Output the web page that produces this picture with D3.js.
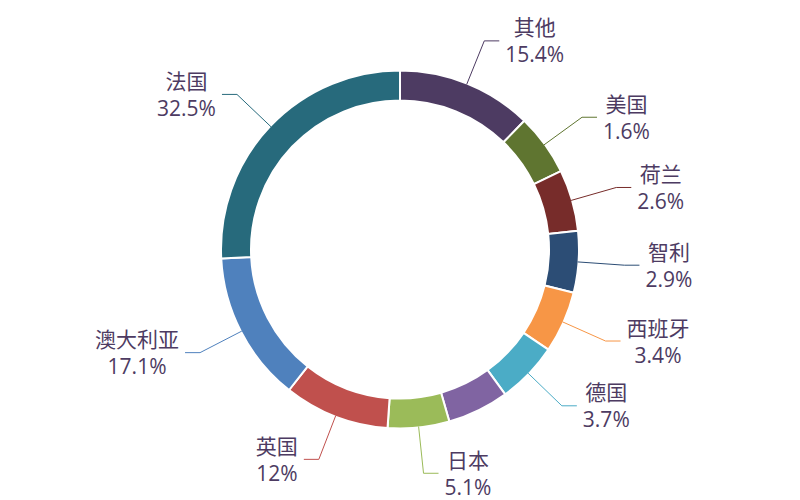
<!DOCTYPE html>
<html>
<head>
<meta charset="utf-8">
<script src="https://cdn.jsdelivr.net/npm/d3@7"></script>
<style>
  body { margin: 0; background: #fff; }
  text { font-family: "Open Sans", "Noto Sans CJK SC", sans-serif; }
</style>
</head>
<body>
<script>
// slices run clockwise from 12 o'clock; the unnamed slice had no label in the picture
const categories = ['其他', '美国', '荷兰', '智利', '西班牙', '德国', '', '日本', '英国', '澳大利亚', '法国'];
const values = [15.4, 1.6, 2.6, 2.9, 3.4, 3.7, 3.7, 5.1, 12, 17.1, 32.5];
const colors = ['#4d3b62', '#5f7530', '#772c2a', '#2c4d75', '#f79646', '#4bacc6',
                '#8064a2', '#9bbb59', '#c0504d', '#4f81bd', '#276a7c'];

const w = 800, h = 500;
const cx = 400, cy = 249.5;
const outerR = 179, innerR = 149;
const minAngle = 20 * Math.PI / 180;
const textColor = '#4d3b62';

// small slices are held at a minimum angle, the rest share what is left
const total = d3.sum(values);
const small = values.map(v => v / total * 2 * Math.PI < minAngle);
const restAngle = 2 * Math.PI - minAngle * small.filter(s => s).length;
const largeSum = d3.sum(values.filter((v, i) => !small[i]));
const weights = values.map((v, i) => small[i] ? minAngle : v * restAngle / largeSum);

const pie = d3.pie().sort(null).value(i => weights[i]);
const arcs = pie(d3.range(values.length));

const arc = d3.arc().innerRadius(innerR).outerRadius(outerR);

const svg = d3.select('body')
  .append('svg')
  .attr('width', w)
  .attr('height', h);

const g = svg.append('g').attr('transform', `translate(${cx},${cy})`);

g.selectAll('path.slice')
  .data(arcs)
  .enter()
  .append('path')
    .attr('class', 'slice')
    .attr('d', arc)
    .attr('fill', d => colors[d.data])
    .attr('stroke', '#fff')
    .attr('stroke-width', 2)
    .attr('stroke-linejoin', 'round');

const labelR0 = 178, labelR1 = 225, len2 = 15, gap = 6, lineH = 27;

const labelled = arcs.filter(d => categories[d.data] !== '');

labelled.forEach(d => {
  const m = (d.startAngle + d.endAngle) / 2;
  const sx = Math.sin(m), sy = -Math.cos(m);
  const right = sx >= 0;
  const p0 = [sx * labelR0, sy * labelR0];
  const p1 = [sx * labelR1, sy * labelR1];
  const p2 = [p1[0] + (right ? len2 : -len2), p1[1]];

  g.append('polyline')
    .attr('points', [p0, p1, p2].map(p => p.join(',')).join(' '))
    .attr('fill', 'none')
    .attr('stroke', colors[d.data])
    .attr('stroke-width', 1);

  const pct = Math.round(values[d.data] / total * 1000) / 10 + '%';
  const t = g.append('text')
    .attr('fill', textColor)
    .attr('font-size', '21px')
    .attr('text-anchor', 'middle');
  const lines = [categories[d.data], pct];
  const spans = lines.map((s, k) => t.append('tspan')
    .attr('x', 0)
    .attr('y', p2[1] + (k - 0.5) * lineH)
    .attr('dominant-baseline', 'central')
    .text(s));

  const bw = t.node().getBBox().width;
  const x = right ? p2[0] + gap + bw / 2 : p2[0] - gap - bw / 2;
  spans.forEach(s => s.attr('x', x));
});
</script>
</body>
</html>
